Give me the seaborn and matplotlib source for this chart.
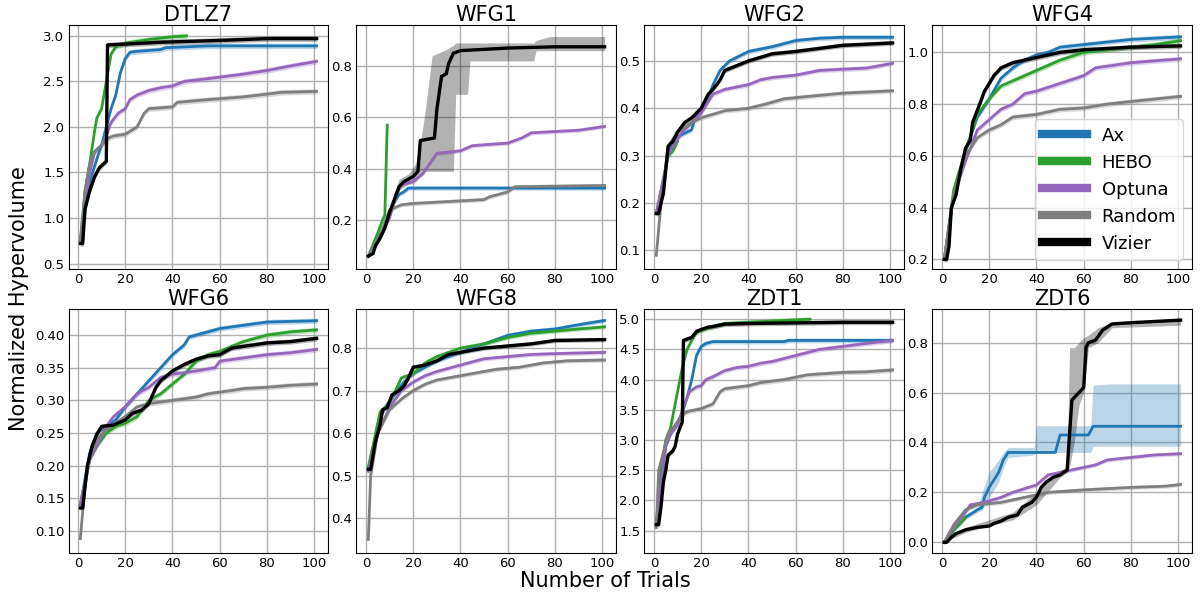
import numpy as np
import pandas as pd
import seaborn as sns
import matplotlib.pyplot as plt
from matplotlib.lines import Line2D

ALGORITHMS = ['Ax', 'HEBO', 'Optuna', 'Random', 'Vizier']
COLORS = ['#1f77b4', '#2ca02c', '#9467bd', '#7f7f7f', 'black']
PROBLEMS = ['DTLZ7', 'WFG1', 'WFG2', 'WFG4', 'WFG6', 'WFG8', 'ZDT1', 'ZDT6']

# (trial, normalized hypervolume)
DTLZ7_AX = [(1, 0.75), (5, 1.4), (8, 1.65), (10, 1.8), (12, 2.0), (14, 2.2), (16, 2.35), (18, 2.6),
            (20, 2.75), (22, 2.82), (25, 2.83), (35, 2.85), (37, 2.87), (55, 2.89), (101, 2.89)]
DTLZ7_HEBO = [(1, 0.75), (3, 1.3), (5, 1.6), (7, 1.95), (8, 2.1), (10, 2.2), (12, 2.5), (14, 2.8),
              (16, 2.88), (20, 2.92), (25, 2.94), (30, 2.96), (40, 2.99), (46, 3.0)]
DTLZ7_OPTUNA = [(1, 0.75), (5, 1.5), (7, 1.72), (10, 1.8), (12, 1.9), (14, 2.05), (17, 2.15), (20, 2.2),
                (22, 2.3), (25, 2.35), (30, 2.4), (35, 2.43), (40, 2.45), (45, 2.5), (55, 2.53),
                (70, 2.58), (80, 2.62), (90, 2.67), (101, 2.72)]
DTLZ7_RANDOM = [(1, 0.72), (3, 1.3), (5, 1.6), (7, 1.73), (10, 1.8), (13, 1.88), (15, 1.9), (20, 1.92),
                (25, 2.0), (28, 2.15), (30, 2.2), (40, 2.22), (42, 2.27), (55, 2.3), (70, 2.33),
                (80, 2.36), (86, 2.38), (101, 2.39)]
DTLZ7_VIZIER = [(1, 0.72), (2, 0.72), (3, 1.1), (5, 1.3), (7, 1.45), (9, 1.55), (11, 1.6), (12, 1.62),
                (12.5, 2.9), (20, 2.91), (35, 2.93), (60, 2.95), (80, 2.97), (101, 2.97)]

WFG1_AX = [(1, 0.06), (4, 0.1), (7, 0.15), (10, 0.23), (12, 0.27), (14, 0.3), (16, 0.31), (18, 0.325),
           (101, 0.325)]
WFG1_HEBO = [(1, 0.06), (5, 0.15), (7, 0.2), (8, 0.22), (9, 0.57)]
WFG1_OPTUNA = [(1, 0.06), (4, 0.11), (7, 0.15), (10, 0.21), (13, 0.3), (15, 0.34), (20, 0.35), (24, 0.38),
               (27, 0.42), (30, 0.46), (40, 0.47), (45, 0.49), (60, 0.5), (66, 0.52), (70, 0.54),
               (90, 0.55), (101, 0.565)]
WFG1_RANDOM = [(1, 0.06), (4, 0.11), (7, 0.16), (10, 0.24), (15, 0.26), (20, 0.265), (40, 0.275),
               (50, 0.28), (52, 0.29), (60, 0.31), (63, 0.33), (101, 0.335)]
WFG1_VIZIER = [(1, 0.06), (3, 0.07), (4, 0.1), (6, 0.13), (8, 0.17), (10, 0.23), (12, 0.28), (14, 0.33),
               (16, 0.35), (18, 0.36), (20, 0.37), (22, 0.39), (23, 0.51), (29, 0.52), (30, 0.63),
               (32, 0.76), (34, 0.77), (35, 0.81), (37, 0.85), (40, 0.86), (50, 0.865), (60, 0.87),
               (80, 0.875), (101, 0.875)]

WFG2_AX = [(1, 0.178), (5, 0.27), (6, 0.31), (10, 0.34), (16, 0.355), (18, 0.39), (22, 0.41), (25, 0.45),
           (28, 0.48), (32, 0.5), (40, 0.52), (50, 0.53), (60, 0.543), (70, 0.548), (80, 0.55), (101, 0.55)]
WFG2_HEBO = [(1, 0.178), (4, 0.25), (6, 0.3), (8, 0.31), (10, 0.33)]
WFG2_OPTUNA = [(1, 0.178), (6, 0.3), (8, 0.32), (12, 0.35), (16, 0.37), (20, 0.39), (25, 0.43), (30, 0.44),
               (40, 0.45), (45, 0.46), (50, 0.465), (60, 0.47), (70, 0.48), (90, 0.485), (101, 0.495)]
WFG2_RANDOM = [(1, 0.09), (3, 0.2), (6, 0.32), (10, 0.35), (16, 0.37), (20, 0.38), (30, 0.395), (40, 0.4),
               (48, 0.41), (55, 0.42), (65, 0.425), (80, 0.432), (101, 0.437)]
WFG2_VIZIER = [(1, 0.178), (2, 0.178), (3, 0.2), (4, 0.22), (5, 0.27), (6, 0.32), (8, 0.33), (10, 0.35),
               (13, 0.37), (16, 0.38), (20, 0.4), (23, 0.43), (25, 0.44), (28, 0.46), (30, 0.48), (35, 0.49),
               (40, 0.5), (50, 0.515), (60, 0.52), (80, 0.533), (101, 0.538)]

WFG4_AX = [(1, 0.2), (5, 0.45), (10, 0.62), (15, 0.75), (20, 0.82), (25, 0.9), (30, 0.94), (35, 0.97),
           (40, 0.99), (45, 1.0), (50, 1.02), (60, 1.03), (70, 1.04), (80, 1.05), (101, 1.06)]
WFG4_HEBO = [(1, 0.2), (5, 0.47), (10, 0.62), (15, 0.76), (20, 0.82), (25, 0.87), (30, 0.89), (40, 0.93),
             (50, 0.97), (60, 1.0), (70, 1.01), (80, 1.02), (90, 1.03), (101, 1.045)]
WFG4_OPTUNA = [(1, 0.2), (5, 0.45), (10, 0.58), (15, 0.7), (20, 0.74), (25, 0.78), (30, 0.8), (35, 0.84),
               (40, 0.85), (50, 0.88), (60, 0.91), (65, 0.94), (80, 0.96), (101, 0.975)]
WFG4_RANDOM = [(1, 0.2), (5, 0.45), (10, 0.6), (15, 0.67), (20, 0.7), (25, 0.72), (30, 0.75), (40, 0.76),
               (50, 0.78), (60, 0.785), (70, 0.8), (80, 0.81), (101, 0.83)]
WFG4_VIZIER = [(1, 0.2), (2, 0.2), (3, 0.25), (4, 0.4), (6, 0.45), (8, 0.55), (10, 0.63), (12, 0.66),
               (13, 0.73), (16, 0.8), (18, 0.85), (20, 0.88), (22, 0.91), (25, 0.94), (30, 0.96), (35, 0.97),
               (40, 0.98), (45, 0.99), (50, 1.0), (60, 1.01), (80, 1.02), (101, 1.025)]

WFG6_AX = [(1, 0.14), (5, 0.22), (8, 0.25), (12, 0.26), (16, 0.27), (20, 0.29), (25, 0.31), (30, 0.33),
           (35, 0.35), (40, 0.37), (45, 0.385), (47, 0.397), (55, 0.405), (60, 0.41), (70, 0.415),
           (80, 0.42), (101, 0.422)]
WFG6_HEBO = [(1, 0.14), (5, 0.21), (8, 0.23), (12, 0.25), (16, 0.26), (20, 0.265), (25, 0.275), (30, 0.3),
             (35, 0.31), (40, 0.325), (45, 0.34), (50, 0.36), (55, 0.37), (60, 0.375), (70, 0.39),
             (80, 0.4), (90, 0.405), (101, 0.408)]
WFG6_OPTUNA = [(1, 0.14), (5, 0.21), (8, 0.23), (12, 0.26), (15, 0.275), (20, 0.29), (25, 0.31), (30, 0.32),
               (35, 0.335), (40, 0.34), (50, 0.345), (58, 0.35), (60, 0.36), (70, 0.365), (80, 0.37),
               (90, 0.373), (101, 0.378)]
WFG6_RANDOM = [(1, 0.088), (3, 0.17), (5, 0.21), (8, 0.24), (12, 0.255), (16, 0.265), (20, 0.275),
               (25, 0.29), (30, 0.295), (40, 0.3), (50, 0.305), (55, 0.31), (65, 0.315), (70, 0.318),
               (80, 0.32), (90, 0.323), (101, 0.325)]
WFG6_VIZIER = [(1, 0.135), (2, 0.135), (4, 0.2), (6, 0.23), (8, 0.248), (10, 0.26), (15, 0.262), (20, 0.27),
               (23, 0.28), (27, 0.285), (30, 0.295), (33, 0.32), (35, 0.33), (40, 0.345), (45, 0.355),
               (50, 0.363), (55, 0.368), (60, 0.37), (65, 0.38), (80, 0.388), (90, 0.39), (101, 0.395)]

WFG8_AX = [(1, 0.515), (5, 0.62), (8, 0.66), (12, 0.69), (16, 0.72), (20, 0.74), (25, 0.755), (30, 0.77),
           (40, 0.79), (50, 0.81), (60, 0.83), (70, 0.84), (80, 0.845), (90, 0.855), (101, 0.865)]
WFG8_HEBO = [(1, 0.52), (3, 0.57), (6, 0.65), (10, 0.67), (15, 0.73), (20, 0.74), (25, 0.765), (30, 0.78),
             (40, 0.8), (50, 0.81), (60, 0.825), (70, 0.835), (80, 0.84), (90, 0.845), (101, 0.85)]
WFG8_OPTUNA = [(1, 0.51), (5, 0.6), (10, 0.66), (15, 0.7), (20, 0.72), (25, 0.735), (30, 0.745), (40, 0.76),
               (50, 0.775), (60, 0.78), (70, 0.785), (80, 0.787), (101, 0.79)]
WFG8_RANDOM = [(1, 0.35), (2, 0.5), (5, 0.6), (10, 0.655), (15, 0.68), (20, 0.7), (25, 0.715), (30, 0.725),
               (40, 0.735), (45, 0.74), (55, 0.75), (65, 0.755), (75, 0.765), (85, 0.77), (101, 0.772)]
WFG8_VIZIER = [(1, 0.515), (2, 0.515), (4, 0.58), (6, 0.62), (7, 0.655), (9, 0.66), (11, 0.69), (14, 0.7),
               (16, 0.71), (18, 0.73), (20, 0.755), (25, 0.76), (30, 0.77), (35, 0.785), (40, 0.79),
               (50, 0.8), (60, 0.805), (70, 0.81), (80, 0.818), (101, 0.82)]

ZDT1_AX = [(1, 1.6), (3, 2.3), (5, 2.9), (7, 3.1), (10, 3.3), (12, 3.45), (14, 3.7), (16, 4.0), (18, 4.4),
           (20, 4.55), (22, 4.6), (25, 4.63), (55, 4.63), (57, 4.65), (101, 4.65)]
ZDT1_HEBO = [(1, 1.6), (3, 2.5), (5, 3.0), (7, 3.2), (9, 3.6), (11, 4.0), (12, 4.2), (14, 4.5), (16, 4.65),
             (18, 4.78), (20, 4.82), (25, 4.88), (30, 4.93), (40, 4.95), (50, 4.97), (60, 4.99), (66, 5.0)]
ZDT1_OPTUNA = [(1, 1.6), (5, 2.9), (7, 3.1), (10, 3.25), (13, 3.6), (15, 3.8), (18, 3.88), (20, 3.9),
               (22, 4.0), (25, 4.05), (30, 4.15), (35, 4.2), (40, 4.22), (45, 4.27), (50, 4.3), (55, 4.35),
               (60, 4.4), (65, 4.45), (70, 4.5), (80, 4.55), (90, 4.6), (101, 4.65)]
ZDT1_RANDOM = [(1, 1.55), (2, 2.5), (4, 2.8), (6, 3.1), (10, 3.3), (13, 3.45), (15, 3.48), (20, 3.52),
               (25, 3.6), (28, 3.8), (30, 3.85), (40, 3.9), (45, 3.95), (55, 4.0), (65, 4.08), (80, 4.12),
               (90, 4.13), (101, 4.16)]
ZDT1_VIZIER = [(1, 1.6), (2, 1.6), (3, 1.9), (4, 2.3), (5, 2.5), (6, 2.75), (8, 2.82), (9, 2.9), (10, 3.1),
               (11, 3.2), (12, 3.3), (12.5, 4.65), (16, 4.7), (18, 4.8), (20, 4.83), (23, 4.87), (25, 4.88),
               (30, 4.92), (40, 4.93), (60, 4.94), (80, 4.95), (101, 4.95)]

ZDT6_AX = [(1, 0.0), (5, 0.05), (10, 0.1), (15, 0.13), (17, 0.14), (18, 0.18), (20, 0.22), (22, 0.25),
           (24, 0.28), (26, 0.33), (28, 0.36), (48, 0.36), (50, 0.43), (62, 0.43), (64, 0.465), (101, 0.465)]
ZDT6_HEBO = [(1, 0.0), (5, 0.05), (10, 0.1)]
ZDT6_OPTUNA = [(1, 0.0), (5, 0.06), (10, 0.12), (12, 0.15), (18, 0.16), (25, 0.18), (30, 0.2), (35, 0.215),
               (40, 0.23), (45, 0.27), (50, 0.28), (55, 0.29), (60, 0.3), (65, 0.31), (70, 0.33), (80, 0.34),
               (90, 0.35), (101, 0.355)]
ZDT6_RANDOM = [(1, 0.0), (5, 0.07), (10, 0.13), (15, 0.15), (20, 0.155), (25, 0.16), (30, 0.17), (40, 0.19),
               (45, 0.2), (60, 0.21), (70, 0.215), (80, 0.22), (95, 0.225), (101, 0.232)]
ZDT6_VIZIER = [(1, 0.0), (2, 0.0), (4, 0.02), (6, 0.035), (10, 0.05), (15, 0.06), (20, 0.065), (22, 0.075),
               (25, 0.085), (28, 0.1), (32, 0.11), (34, 0.14), (38, 0.16), (40, 0.18), (42, 0.22), (44, 0.24),
               (47, 0.26), (50, 0.27), (53, 0.29), (55, 0.57), (58, 0.6), (60, 0.62), (61, 0.78), (62, 0.8),
               (65, 0.81), (68, 0.85), (72, 0.875), (80, 0.88), (90, 0.885), (101, 0.89)]

# typical half-width of the shaded spread per problem
SPREAD = [0.03, 0.008, 0.005, 0.01, 0.004, 0.005, 0.04, 0.008]

# wide bands (trial, low, high)
WFG1_VIZIER_BAND = [(1, 0.05, 0.07), (10, 0.21, 0.25), (14, 0.32, 0.36), (18, 0.34, 0.38), (21, 0.35, 0.42),
                    (23, 0.38, 0.5), (25, 0.39, 0.62), (28, 0.39, 0.84), (33, 0.39, 0.86), (37, 0.39, 0.88),
                    (38, 0.69, 0.89), (43, 0.69, 0.89), (44, 0.82, 0.89), (71, 0.82, 0.89), (72, 0.86, 0.9),
                    (78, 0.86, 0.915), (101, 0.86, 0.915)]
ZDT6_AX_BAND = [(1, 0.0, 0.0), (10, 0.09, 0.11), (15, 0.12, 0.14), (17, 0.13, 0.2), (20, 0.18, 0.28),
                (24, 0.24, 0.33), (26, 0.3, 0.36), (28, 0.34, 0.38), (39, 0.35, 0.38), (40, 0.36, 0.467),
                (63, 0.36, 0.467), (64, 0.385, 0.63), (72, 0.385, 0.635), (101, 0.385, 0.635)]
ZDT6_VIZIER_BAND = [(1, 0.0, 0.0), (10, 0.04, 0.06), (30, 0.09, 0.12), (40, 0.15, 0.2), (50, 0.26, 0.29),
                    (53, 0.28, 0.3), (54, 0.3, 0.78), (56, 0.4, 0.78), (58, 0.55, 0.8), (60, 0.6, 0.82),
                    (62, 0.78, 0.83), (66, 0.8, 0.86), (72, 0.86, 0.88), (101, 0.87, 0.9)]

CURVES = {
    'DTLZ7': [DTLZ7_AX, DTLZ7_HEBO, DTLZ7_OPTUNA, DTLZ7_RANDOM, DTLZ7_VIZIER],
    'WFG1': [WFG1_AX, WFG1_HEBO, WFG1_OPTUNA, WFG1_RANDOM, WFG1_VIZIER],
    'WFG2': [WFG2_AX, WFG2_HEBO, WFG2_OPTUNA, WFG2_RANDOM, WFG2_VIZIER],
    'WFG4': [WFG4_AX, WFG4_HEBO, WFG4_OPTUNA, WFG4_RANDOM, WFG4_VIZIER],
    'WFG6': [WFG6_AX, WFG6_HEBO, WFG6_OPTUNA, WFG6_RANDOM, WFG6_VIZIER],
    'WFG8': [WFG8_AX, WFG8_HEBO, WFG8_OPTUNA, WFG8_RANDOM, WFG8_VIZIER],
    'ZDT1': [ZDT1_AX, ZDT1_HEBO, ZDT1_OPTUNA, ZDT1_RANDOM, ZDT1_VIZIER],
    'ZDT6': [ZDT6_AX, ZDT6_HEBO, ZDT6_OPTUNA, ZDT6_RANDOM, ZDT6_VIZIER],
}
WIDE_BANDS = {('WFG1', 'Vizier'): WFG1_VIZIER_BAND, ('ZDT6', 'Ax'): ZDT6_AX_BAND,
              ('ZDT6', 'Vizier'): ZDT6_VIZIER_BAND}

YLIMS = [(0.44, 3.12), (0.01, 0.96), (0.061, 0.576), (0.163, 1.106),
         (0.066, 0.44), (0.318, 0.892), (1.13, 5.17), (-0.043, 0.935)]
YTICKS = [np.arange(0.5, 3.01, 0.5), [0.2, 0.4, 0.6, 0.8], [0.1, 0.2, 0.3, 0.4, 0.5],
          [0.2, 0.4, 0.6, 0.8, 1.0], np.arange(0.10, 0.401, 0.05), [0.4, 0.5, 0.6, 0.7, 0.8],
          np.arange(1.5, 5.01, 0.5), [0.0, 0.2, 0.4, 0.6, 0.8]]

rows = []
for prob in PROBLEMS:
    for alg, pts in zip(ALGORITHMS, CURVES[prob]):
        for t, v in pts:
            rows.append((prob, alg, t, v))
df = pd.DataFrame(rows, columns=['problem', 'algorithm', 'trial', 'hv'])

fig, axes = plt.subplots(2, 4, figsize=(12.02, 5.94), dpi=100)
fig.subplots_adjust(left=0.057, right=0.992, top=0.958, bottom=0.069, wspace=0.108, hspace=0.164)

for i, (prob, ax) in enumerate(zip(PROBLEMS, axes.flat)):
    sub = df[df['problem'] == prob]
    ax.grid(True, color='#b0b0b0', linewidth=1.0)
    ax.set_axisbelow(True)
    for alg, color in zip(ALGORITHMS, COLORS):
        s = sub[sub['algorithm'] == alg]
        if (prob, alg) in WIDE_BANDS:
            band = np.array(WIDE_BANDS[(prob, alg)])
            ax.fill_between(band[:, 0], band[:, 1], band[:, 2], color=color, alpha=0.3, linewidth=0)
        else:
            ax.fill_between(s['trial'], s['hv'] - SPREAD[i], s['hv'] + SPREAD[i],
                            color=color, alpha=0.3, linewidth=0)
        sns.lineplot(data=s, x='trial', y='hv', color=color, estimator=None, sort=False,
                     linewidth=2.4 if alg == 'Vizier' else 2.0, ax=ax)
    ax.set_title(prob, fontsize=15, pad=3)
    ax.set_xlim(-4, 106)
    ax.set_xticks([0, 20, 40, 60, 80, 100])
    ax.set_ylim(*YLIMS[i])
    ax.set_yticks(YTICKS[i])
    ax.tick_params(labelsize=9.5, length=0, pad=3)
    ax.set_xlabel('')
    ax.set_ylabel('')

handles = [Line2D([0], [0], color=c, linewidth=6) for c in COLORS]
axes[0, 3].legend(handles, ALGORITHMS, loc='lower right', fontsize=13, handlelength=2.5)

fig.text(0.504, 0.0118, 'Number of Trials', ha='center', va='baseline', fontsize=15)
fig.text(0.0154, 0.498, 'Normalized Hypervolume', ha='center', va='center', rotation=90, fontsize=15)

fig.savefig('out.png', dpi=100)
